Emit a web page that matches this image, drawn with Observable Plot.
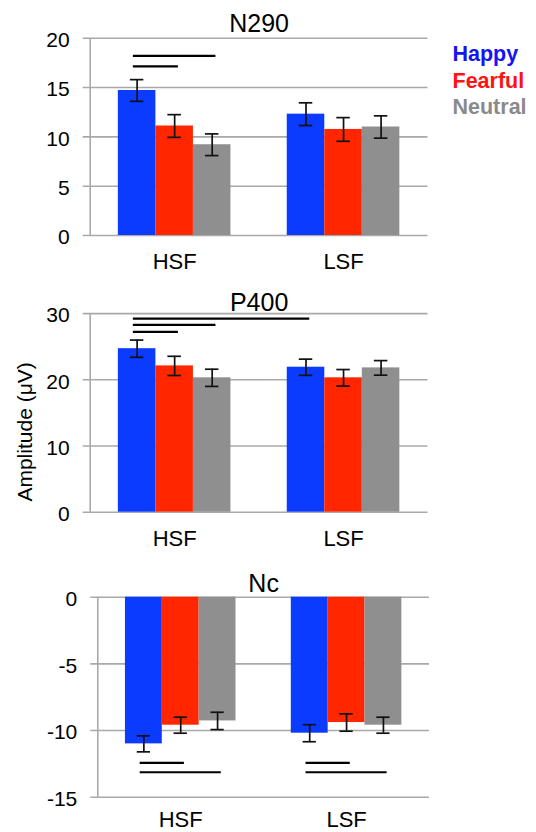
<!DOCTYPE html>
<html>
<head>
<meta charset="utf-8">
<script src="https://cdn.jsdelivr.net/npm/d3@7"></script>
<script src="https://cdn.jsdelivr.net/npm/@observablehq/plot@0.6"></script>
<style>
  body { margin: 0; background: #fff; }
  #chart { width: 536px; height: 832px; position: relative; background: #fff; }
  #chart svg { display: block; }
</style>
</head>
<body>
<div id="chart"></div>
<script>
// ---------- data ----------
const groups = ["HSF", "LSF"];
const conditions = ["Happy", "Fearful", "Neutral"];
const barColors = ["#0b3bff", "#ff2600", "#8f8f8f"];
const legendColors = ["#1414f5", "#ff1212", "#8a8a8a"];
const panelTitles = ["N290", "P400", "Nc"];
const yAxisLabel = "Amplitude (\u03bcV)";

// order: HSF Happy, HSF Fearful, HSF Neutral, LSF Happy, LSF Fearful, LSF Neutral
const n290Mean = [14.7, 11.1, 9.2, 12.3, 10.75, 11.0];
const n290Err  = [1.1, 1.15, 1.1, 1.15, 1.2, 1.13];
const p400Mean = [24.7, 22.1, 20.3, 21.9, 20.3, 21.8];
const p400Err  = [1.3, 1.45, 1.3, 1.22, 1.25, 1.1];
const ncMean   = [-11.0, -9.6, -9.28, -10.2, -9.4, -9.6];
const ncErr    = [0.6, 0.6, 0.65, 0.64, 0.65, 0.6];

const n290Ticks = [0, 5, 10, 15, 20];
const p400Ticks = [0, 10, 20, 30];
const ncTicks   = [0, -5, -10, -15];

// significance bars: [fromGroup, fromCondition, toGroup, toCondition, level]
const n290Sig = [
  ["HSF", "Happy", "HSF", "Fearful", 17.15],
  ["HSF", "Happy", "HSF", "Neutral", 18.2]
];
const p400Sig = [
  ["HSF", "Happy", "HSF", "Fearful", 27.25],
  ["HSF", "Happy", "HSF", "Neutral", 28.3],
  ["HSF", "Happy", "LSF", "Happy", 29.25]
];
const ncSig = [
  ["HSF", "Happy", "HSF", "Fearful", -12.42],
  ["HSF", "Happy", "HSF", "Neutral", -13.13],
  ["LSF", "Happy", "LSF", "Fearful", -12.42],
  ["LSF", "Happy", "LSF", "Neutral", -13.13]
];

// ---------- layout (style only) ----------
const GROUP_STEP = 4.5;              // in bar widths
const X_DOMAIN = [-1.25, 7.75];
const GRID = "#a9a9a9";
const FONT = "'Liberation Sans', Arial, Helvetica, sans-serif";
const pos = (g, c) => groups.indexOf(g) * GROUP_STEP + conditions.indexOf(c);
const groupCenter = g => groups.indexOf(g) * GROUP_STEP + (conditions.length - 1) / 2;

function panel(cfg) {
  const rows = groups.flatMap((g, gi) => conditions.map((c, ci) => ({
    group: g, condition: c,
    mean: cfg.mean[gi * conditions.length + ci],
    err: cfg.err[gi * conditions.length + ci]
  })));
  const sig = cfg.sig.map(([g1, c1, g2, c2, level]) => ({x1: pos(g1, c1), x2: pos(g2, c2), level}));
  const px = d => pos(d.group, d.condition);
  const marks = [
    Plot.ruleY(cfg.ticks, {stroke: GRID, strokeWidth: 1.6, insetLeft: -7}),
    Plot.ruleX([X_DOMAIN[0]], {stroke: GRID, strokeWidth: 1.6}),
    Plot.rect(rows, {x1: d => px(d) - 0.5, x2: d => px(d) + 0.5, y1: 0, y2: "mean", fill: "condition"}),
    Plot.ruleX(rows, {x: px, y1: d => d.mean - d.err, y2: d => d.mean + d.err, stroke: "#111", strokeWidth: 1.7}),
    Plot.ruleY(rows, {y: d => d.mean + d.err, x1: d => px(d) - 0.18, x2: d => px(d) + 0.18, stroke: "#111", strokeWidth: 1.7}),
    Plot.ruleY(rows, {y: d => d.mean - d.err, x1: d => px(d) - 0.18, x2: d => px(d) + 0.18, stroke: "#111", strokeWidth: 1.7}),
    Plot.ruleY(sig, {y: "level", x1: d => d.x1 - 0.1, x2: d => d.x2 + 0.1, stroke: "#000", strokeWidth: 2.2}),
    Plot.axisY(cfg.ticks, {tickSize: 0, tickPadding: 20.5, fontSize: 21, dy: 2, label: null, tickFormat: d => String(d)}),
    Plot.text(groups, {x: groupCenter, frameAnchor: "bottom", lineAnchor: "top", textAnchor: "middle", dy: cfg.catDy, fontSize: 22}),
    Plot.text([cfg.title], {frameAnchor: "top", lineAnchor: "middle", textAnchor: "middle", dy: cfg.titleDy, fontSize: 25})
  ];
  if (cfg.legend) {
    conditions.forEach((c, i) => {
      marks.push(Plot.text([c], {frameAnchor: "top-right", textAnchor: "start", lineAnchor: "bottom",
        dx: 24.5, dy: 23 + i * 26.5, fill: legendColors[i], fontWeight: "bold", fontSize: 21.5}));
    });
  }
  if (cfg.yLabel) {
    marks.push(Plot.text([cfg.yLabel], {frameAnchor: "left", rotate: -90, textAnchor: "middle", lineAnchor: "middle",
      dx: -64.5, dy: 19, fontSize: 21}));
  }
  return Plot.plot({
    width: 536,
    height: cfg.height,
    marginTop: cfg.marginTop,
    marginBottom: cfg.marginBottom,
    marginLeft: cfg.marginLeft,
    marginRight: cfg.marginRight,
    style: {fontFamily: FONT, fontSize: "21px", background: "#fff", color: "#000", overflow: "visible"},
    x: {domain: X_DOMAIN, axis: null},
    y: {domain: cfg.yDomain, axis: null, label: null},
    color: {domain: conditions, range: barColors},
    marks
  });
}

const chart = document.getElementById("chart");
chart.append(panel({
  title: panelTitles[0], mean: n290Mean, err: n290Err, sig: n290Sig, ticks: n290Ticks, yDomain: [0, 20],
  height: 272, marginTop: 37.7, marginBottom: 37, marginLeft: 89.7, marginRight: 108.5,
  titleDy: -14.7, catDy: 17.7, legend: true
}));
chart.append(panel({
  title: panelTitles[1], mean: p400Mean, err: p400Err, sig: p400Sig, ticks: p400Ticks, yDomain: [0, 30],
  height: 278, marginTop: 41.1, marginBottom: 38.3, marginLeft: 89.7, marginRight: 108.5,
  titleDy: -10.8, catDy: 17.7, yLabel: yAxisLabel
}));
chart.append(panel({
  title: panelTitles[2], mean: ncMean, err: ncErr, sig: ncSig, ticks: ncTicks, yDomain: [-15, 0],
  height: 282, marginTop: 46.7, marginBottom: 35.3, marginLeft: 97.3, marginRight: 107,
  titleDy: -13.7, catDy: 14.5
}));
</script>
</body>
</html>
